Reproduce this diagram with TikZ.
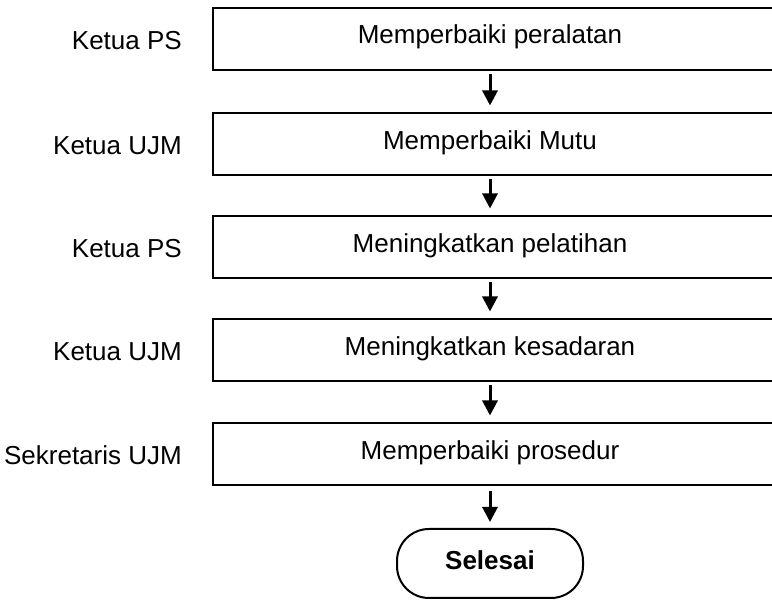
\documentclass[tikz,border=0pt]{standalone}
\usepackage{fontspec}
\setmainfont{Liberation Sans}
\usetikzlibrary{arrows.meta}
\begin{document}
\begin{tikzpicture}[x=1pt,y=-1pt,
  stepbox/.style={draw, line width=2pt, minimum width=587pt, minimum height=62pt, inner sep=0pt},
  boxtext/.style={font=\fontsize{26}{30}\selectfont, inner sep=0pt, anchor=base},
  role/.style={font=\fontsize{26}{30}\selectfont, inner sep=0pt, anchor=base east},
  endbox/.style={draw, line width=2pt, rounded corners=32pt, minimum width=186pt, minimum height=69pt,
    inner sep=0pt, text height=13pt, text depth=0pt, font=\fontsize{26}{30}\selectfont\bfseries},
  flow/.style={line width=3pt, -{Triangle[width=15pt,length=15pt]}}]
\useasboundingbox (0,0) rectangle (772,601);
\clip (0,0) rectangle (772,601);

% process boxes (open to the right, running off the page)
\node[stepbox] (b1) at (506.5,39)    {};
\node[stepbox] (b2) at (506.5,144.5) {};
\node[stepbox] (b3) at (506.5,247.5) {};
\node[stepbox] (b4) at (506.5,350.5) {};
\node[stepbox] (b5) at (506.5,454.5) {};

% box captions
\node[boxtext] (t1) at (490,44)  {Memperbaiki peralatan};
\node[boxtext] (t2) at (490,150) {Memperbaiki Mutu};
\node[boxtext] (t3) at (490,253) {Meningkatkan pelatihan};
\node[boxtext] (t4) at (490,356) {Meningkatkan kesadaran};
\node[boxtext] (t5) at (490,460) {Memperbaiki prosedur};

% responsible persons
\node[role] (r1) at (182,50)  {Ketua PS};
\node[role] (r2) at (182,155) {Ketua UJM};
\node[role] (r3) at (182,258) {Ketua PS};
\node[role] (r4) at (182,361) {Ketua UJM};
\node[role] (r5) at (182,465) {Sekretaris UJM};

% terminator
\node[endbox] (end) at (490,563.5) {Selesai};

% flow arrows
\draw[flow, shorten <=3pt, shorten >=7pt] (b1.south -| t1) -- (b2.north -| t1);
\draw[flow, shorten <=3pt, shorten >=7pt] (b2.south -| t1) -- (b3.north -| t1);
\draw[flow, shorten <=3pt, shorten >=7pt] (b3.south -| t1) -- (b4.north -| t1);
\draw[flow, shorten <=3pt, shorten >=7pt] (b4.south -| t1) -- (b5.north -| t1);
\draw[flow, shorten <=5pt, shorten >=6pt] (b5.south -| end) -- (end.north);
\end{tikzpicture}
\end{document}
